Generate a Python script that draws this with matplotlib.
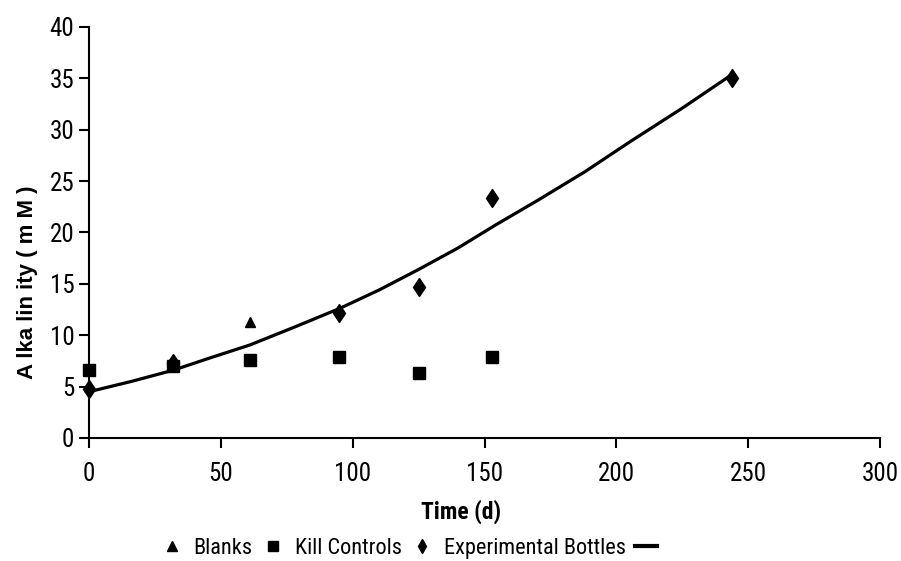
import numpy as np
import matplotlib
matplotlib.use('Agg')
import matplotlib.pyplot as plt
from matplotlib.lines import Line2D

plt.rc('font', family=['Roboto Condensed', 'DejaVu Sans'], size=16)

# measurements
blank_t = [0, 32, 61]
blank_alk = [5.1, 7.2, 11.3]

kill_t = [0, 32, 61, 95, 125, 153]
kill_alk = [6.6, 7.0, 7.6, 7.9, 6.3, 7.9]

exp_t = [0, 32, 95, 125, 153, 244]
exp_alk = [4.8, 7.3, 12.2, 14.7, 23.4, 35.0]

# trend line for experimental bottles
fit_t = [0, 16, 32, 46, 61, 78, 95, 110, 125, 140, 154, 170, 188, 205, 225, 244]
fit_alk = [4.5, 5.5, 6.6, 7.8, 9.05, 10.8, 12.6, 14.4, 16.4, 18.5, 20.7, 23.1, 25.9, 28.8, 32.1, 35.4]

fig = plt.figure(figsize=(9.01, 5.61), dpi=100)
ax = fig.add_axes([0.0988, 0.2193, 0.8779, 0.7326])

ax.plot(fit_t, fit_alk, '-', color='black', linewidth=2.3, zorder=2)
ax.plot(exp_t, exp_alk, 'd', color='black', markersize=9.5, zorder=3)
ax.plot(kill_t, kill_alk, 's', color='black', markersize=8, zorder=3)
ax.plot(blank_t, blank_alk, '^', color='black', markersize=7.5, zorder=3)

ax.set_xlim(0, 300)
ax.set_ylim(0, 40)
ax.set_xticks(np.arange(0, 301, 50))
ax.set_yticks(np.arange(0, 41, 5))
ax.spines['top'].set_visible(False)
ax.spines['right'].set_visible(False)
for s in ('left', 'bottom'):
    ax.spines[s].set_linewidth(1.5)
ax.tick_params(direction='out', length=7, width=1.5, labelsize=18)
ax.tick_params(axis='x', pad=10)
for ln in ax.lines:
    ln.set_clip_on(False)

ax.set_xlabel('Time (d)', fontweight='bold', fontsize=17)
ax.xaxis.set_label_coords(0.47, -0.15)
ax.set_ylabel('A lka lin ity ( m M )', fontweight='bold', fontsize=16,
              family='Liberation Sans')
ax.yaxis.set_label_coords(-0.065, 0.38)

handles = [
    Line2D([], [], linestyle='none', marker='^', color='black', markersize=7),
    Line2D([], [], linestyle='none', marker='s', color='black', markersize=7),
    Line2D([], [], linestyle='none', marker='d', color='black', markersize=7),
    Line2D([], [], linestyle='-', color='black', linewidth=3),
]
labels = ['Blanks', 'Kill Controls', 'Experimental Bottles', '']
fig.legend(handles, labels, loc='center', bbox_to_anchor=(0.46, 0.022), ncol=4,
           frameon=False, fontsize=16, handlelength=1.0, handletextpad=0.5,
           columnspacing=0.4)

fig.savefig('out.png', dpi=100)
